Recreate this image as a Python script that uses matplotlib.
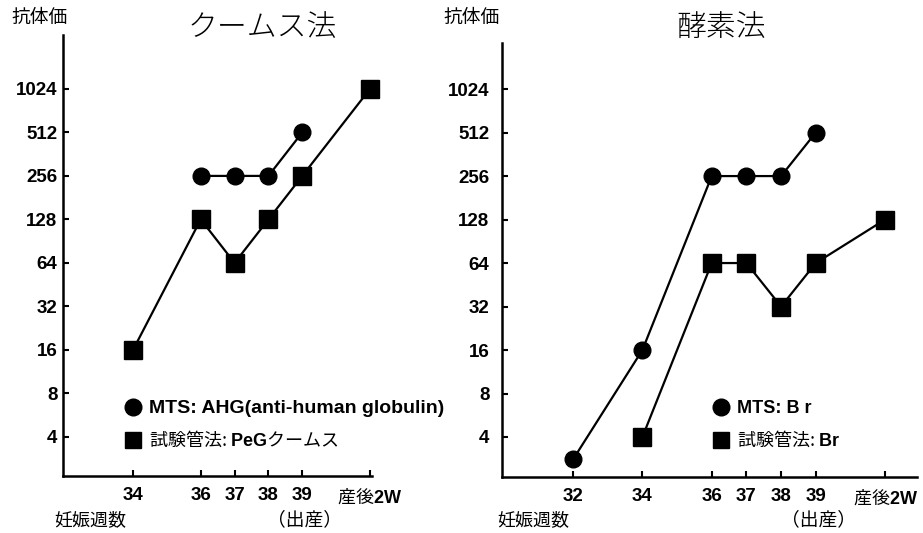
import matplotlib
matplotlib.use("Agg")
import matplotlib.pyplot as plt
from matplotlib.lines import Line2D

plt.rcParams['font.family'] = ['Noto Sans CJK JP', 'DejaVu Sans']
plt.rcParams['mathtext.fontset'] = 'custom'
plt.rcParams['mathtext.bf'] = 'Liberation Sans:bold'
plt.rcParams['mathtext.rm'] = 'Liberation Sans'

# gestational week, 41 stands for 産後2W
coombs_ticks = [34, 36, 37, 38, 39, 41]
coombs_mts_weeks = [36, 37, 38, 39]
coombs_mts = [256, 256, 256, 512]
coombs_tube_weeks = [34, 36, 37, 38, 39, 41]
coombs_tube = [16, 128, 64, 128, 256, 1024]

enzyme_ticks = [32, 34, 36, 37, 38, 39, 41]
enzyme_mts_weeks = [32, 34, 36, 37, 38, 39]
enzyme_mts = [2.8, 16, 256, 256, 256, 512]
enzyme_tube_weeks = [34, 36, 37, 38, 39, 41]
enzyme_tube = [4, 64, 64, 32, 64, 128]

y_ticks = [4, 8, 16, 32, 64, 128, 256, 512, 1024]

W, H = 923, 533


def px(x, y):
    return x / W, 1 - y / H


def make_axes(fig, left, right, top, bottom):
    return fig.add_axes([left / W, 1 - bottom / H, (right - left) / W,
                         (bottom - top) / H])


def style_axes(ax, ticks, xlim, ylim, ypad):
    ax.set_yscale('log', base=2)
    ax.set_xlim(*xlim)
    ax.set_ylim(*ylim)
    ax.set_yticks(y_ticks)
    ax.set_yticklabels([str(v) for v in y_ticks])
    ax.minorticks_off()
    ax.set_xticks(ticks)
    labels = [str(t) for t in ticks[:-1]] + ['産後$\\mathbf{2W}$']
    ax.set_xticklabels(labels)
    for s in ['top', 'right']:
        ax.spines[s].set_visible(False)
    for s in ['left', 'bottom']:
        ax.spines[s].set_linewidth(1.8)
    ax.tick_params(axis='both', direction='in', length=4, width=1.5)
    ax.tick_params(axis='x', pad=8)
    ax.tick_params(axis='y', pad=ypad)
    for lab in ax.get_xticklabels() + ax.get_yticklabels():
        if '産後' in lab.get_text():
            lab.set_fontfamily('Noto Sans CJK JP')
            lab.set_fontsize(13)
        else:
            lab.set_fontfamily('Liberation Sans')
            lab.set_fontweight('bold')
            lab.set_fontsize(13.5)


def add_legend(ax, labels, anchor, size0):
    handles = [Line2D([], [], color='black', marker='o', markersize=12,
                      linestyle='none'),
               Line2D([], [], color='black', marker='s', markersize=12,
                      linestyle='none')]
    leg = ax.legend(handles, labels, loc='upper left', bbox_to_anchor=anchor,
                    frameon=False, borderpad=0, borderaxespad=0,
                    handlelength=1.0, handletextpad=0.4, labelspacing=0.7,
                    prop={'family': 'Noto Sans CJK JP', 'size': 13})
    t0 = leg.get_texts()[0]
    t0.set_fontfamily('Liberation Sans')
    t0.set_fontweight('bold')
    t0.set_fontsize(size0)
    return leg


fig = plt.figure(figsize=(W / 100, H / 100), dpi=100)

ax1 = make_axes(fig, 63, 372, 35, 476)
ax1.plot(coombs_mts_weeks, coombs_mts, color='black', lw=1.6, marker='o',
         markersize=12, clip_on=False)
ax1.plot(coombs_tube_weeks, coombs_tube, color='black', lw=1.6, marker='s',
         markersize=13, clip_on=False)
style_axes(ax1, coombs_ticks, (31.93, 41.06), (2 ** 1.10, 2 ** 11.24), 4)
add_legend(ax1, ['MTS: AHG(anti-human globulin)',
                 '試験管法: $\\mathbf{PeG}$クームス'], (0.197, 0.172), 14)

ax2 = make_axes(fig, 502, 917, 43, 477)
ax2.plot(enzyme_mts_weeks, enzyme_mts, color='black', lw=1.6, marker='o',
         markersize=12, clip_on=False)
ax2.plot(enzyme_tube_weeks, enzyme_tube, color='black', lw=1.6, marker='s',
         markersize=13, clip_on=False)
style_axes(ax2, enzyme_ticks, (29.95, 41.92), (2 ** 1.08, 2 ** 11.06), 9)
add_legend(ax2, ['MTS: B r', '試験管法: $\\mathbf{Br}$'], (0.506, 0.177), 13)

fig.text(*px(40, 17), '抗体価', ha='center', va='center', fontsize=13.5)
fig.text(*px(472, 17), '抗体価', ha='center', va='center', fontsize=13.5)
fig.text(*px(262, 28), 'クームス法', ha='center', va='center', fontsize=21.5,
         fontweight='light')
fig.text(*px(721, 28), '酵素法', ha='center', va='center', fontsize=21.5,
         fontweight='light')
fig.text(*px(90, 520), '妊娠週数', ha='center', va='center', fontsize=13)
fig.text(*px(533, 520), '妊娠週数', ha='center', va='center', fontsize=13)
fig.text(*px(305, 520), '（出産）', ha='center', va='center', fontsize=13.5)
fig.text(*px(818, 520), '（出産）', ha='center', va='center', fontsize=13.5)

fig.savefig('out.png', dpi=100)
